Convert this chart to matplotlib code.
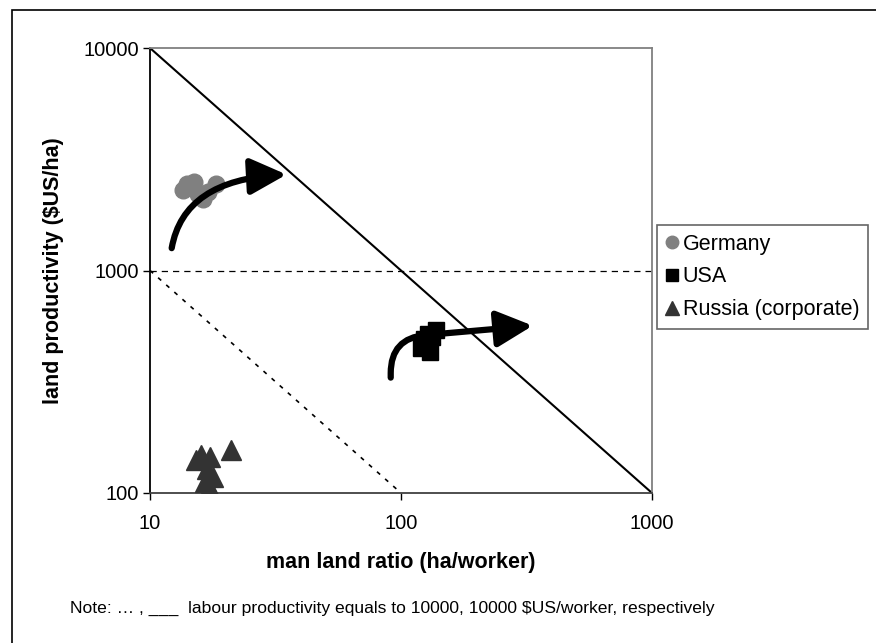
import matplotlib.pyplot as plt
from matplotlib.patches import FancyArrowPatch, Rectangle

plt.rcParams['font.family'] = ['Liberation Sans', 'DejaVu Sans']

# man land ratio (ha/worker) and land productivity ($US/ha)
germany_x = [13.5, 14.0, 14.8, 15.5, 16.2, 17.0, 18.3, 15.0]
germany_y = [2300, 2450, 2350, 2200, 2100, 2250, 2450, 2500]
usa_x = [120, 124, 128, 133, 138, 126, 130]
usa_y = [450, 490, 520, 500, 540, 470, 430]
russia_x = [15.2, 16.0, 16.8, 17.3, 17.8, 21.0, 16.5, 17.2, 17.5]
russia_y = [140, 148, 128, 145, 118, 156, 112, 105, 102]

# labour productivity iso-lines (x * y = const)
iso_hi_x = [10, 1000]
iso_hi_y = [10000, 100]
iso_lo_x = [10, 100]
iso_lo_y = [1000, 100]
ref_level = 1000

# trend arrows (start, end)
germany_arrow = [(12.2, 1260), (35, 2700)]
usa_arrow = [(91, 330), (335, 565)]

xticks = [10, 100, 1000]
yticks = [100, 1000, 10000]

fig = plt.figure(figsize=(8.76, 6.43), dpi=100)
fig.patches.append(Rectangle((12 / 876, -0.1), 1.2, 1.1 - 10 / 643,
                             transform=fig.transFigure, fill=False,
                             edgecolor='black', linewidth=1.2))

ax = fig.add_axes([150 / 876, 150 / 643, 502 / 876, 445 / 643])
ax.set_xscale('log')
ax.set_yscale('log')
ax.set_xlim(10, 1000)
ax.set_ylim(100, 10000)

ax.plot(iso_hi_x, iso_hi_y, color='black', lw=1.5, zorder=2)
ax.plot(iso_lo_x, iso_lo_y, color='black', lw=1.2, ls=(0, (2.5, 4)), zorder=2)
ax.axhline(ref_level, color='black', lw=0.9, ls=(0, (5, 4)), zorder=2)

ax.plot(germany_x, germany_y, 'o', color='#808080', ms=12, mec='#808080',
        label='Germany', zorder=3)
ax.plot(usa_x, usa_y, 's', color='black', ms=11, label='USA', zorder=3)
ax.plot(russia_x, russia_y, '^', color='#333333', ms=14, mec='#333333',
        label='Russia (corporate)', zorder=3)

for arrow, conn in [(germany_arrow, 'angle3,angleA=80,angleB=3'),
                    (usa_arrow, 'angle,angleA=90,angleB=5,rad=35')]:
    ax.add_patch(FancyArrowPatch(arrow[0], arrow[1], transform=ax.transData,
                                 connectionstyle=conn,
                                 arrowstyle='-|>,head_length=2.2,head_width=1.1',
                                 mutation_scale=10, lw=4.5, color='black',
                                 zorder=4, shrinkA=0, shrinkB=0))

ax.set_xticks(xticks)
ax.set_xticklabels([str(t) for t in xticks])
ax.set_yticks(yticks)
ax.set_yticklabels([str(t) for t in yticks])
ax.minorticks_off()
ax.tick_params(direction='out', length=5, width=1, labelsize=14.5)
ax.tick_params(axis='x', pad=10)
ax.tick_params(axis='y', pad=3)

ax.spines['left'].set_color('black')
ax.spines['bottom'].set_color('#404040')
ax.spines['top'].set_color('#808080')
ax.spines['right'].set_color('#808080')
for s in ax.spines.values():
    s.set_linewidth(1.3)

ax.set_xlabel('man land ratio (ha/worker)', fontsize=15.5, fontweight='bold',
              labelpad=14)
ax.set_ylabel('land productivity ($US/ha)', fontsize=15.5, fontweight='bold',
              labelpad=14)

leg = ax.legend(loc='upper left', bbox_to_anchor=(657 / 876, 1 - 225 / 643),
                bbox_transform=fig.transFigure, fontsize=15.5, frameon=True,
                fancybox=False, handlelength=0.6, handletextpad=0.2,
                borderpad=0.4, labelspacing=0.55, markerscale=0.75,
                borderaxespad=0)
leg.get_frame().set_edgecolor('#404040')
leg.get_frame().set_linewidth(1.2)

fig.text(70 / 876, 1 - 608 / 643,
         'Note: \u2026 , ___  labour productivity equals to 10000, 10000 $US/worker, respectively',
         fontsize=12.6, va='center', ha='left')

fig.savefig('out.png', dpi=100)
